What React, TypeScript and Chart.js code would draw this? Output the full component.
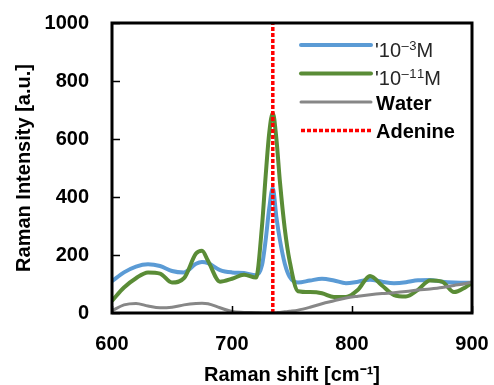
import { useEffect, useRef } from "react";
import { Chart, registerables } from "chart.js";

Chart.register(...registerables);

// ---- data ----
const ramanShift = [
  600, 610, 620, 630, 640, 650, 660, 670, 675, 680,
  690, 700, 710, 720, 725, 728, 731, 734, 737, 740,
  744, 748, 755, 765, 775, 785, 795, 805, 815, 825,
  835, 845, 855, 865, 875, 885, 895, 900,
];
const conc1e3 = [
  110, 140, 160, 168, 162, 145, 140, 170, 176, 172,
  148, 140, 138, 130, 165, 250, 360, 430, 330, 250,
  170, 125, 105, 112, 118, 112, 103, 108, 115, 108,
  103, 106, 113, 114, 108, 105, 104, 104,
];
const conc1e11 = [
  42, 88, 120, 140, 136, 105, 120, 205, 215, 180,
  108, 118, 132, 122, 300, 470, 620, 690, 600, 450,
  290, 180, 75, 72, 68, 55, 55, 80, 128, 95,
  62, 57, 80, 112, 108, 72, 90, 103,
];
const water = [
  8, 28, 33, 24, 18, 20, 28, 33, 34, 32,
  18, 5, 2, 1, 0, 0, 0, 0, 1, 2,
  4, 6, 10, 20, 32, 42, 52, 58, 63, 67,
  70, 74, 79, 83, 88, 95, 102, 107,
];
const adenineShift = [734, 734];
const adenineIntensity = [0, 1000];

const seriesLabels = ["'10⁻³M", "'10⁻¹¹M", "Water", "Adenine"];
const xTitle = "Raman shift [cm⁻¹]";
const yTitle = "Raman Intensity [a.u.]";
const xMin = 600;
const xMax = 900;
const xStep = 100;
const yMin = 0;
const yMax = 1000;
const yStep = 200;

// ---- styles ----
const FONT = '"Liberation Sans", Arial, sans-serif';
const legendBold = [false, false, true, true];
const SUP_MAP: Record<string, string> = {
  "⁻": "–", "⁰": "0", "¹": "1", "²": "2", "³": "3", "⁴": "4",
  "⁵": "5", "⁶": "6", "⁷": "7", "⁸": "8", "⁹": "9",
};

function pts(xs: number[], ys: number[]) {
  return xs.map((x, i) => ({ x, y: ys[i] }));
}

function drawRich(ctx: CanvasRenderingContext2D, text: string, x: number, y: number, size: number, weight: string) {
  let cx = x;
  const supSize = Math.round(size * 0.66);
  for (const ch of text) {
    const sup = SUP_MAP[ch];
    if (sup !== undefined) {
      ctx.font = `${weight} ${supSize}px ${FONT}`;
      ctx.fillText(sup, cx + 0.5, y - size * 0.36);
      cx += ctx.measureText(sup).width + 0.5;
    } else {
      ctx.font = `${weight} ${size}px ${FONT}`;
      ctx.fillText(ch, cx, y);
      cx += ctx.measureText(ch).width;
    }
  }
}

const framePlugin = {
  id: "frameTicksLegend",
  afterDatasetsDraw(chart: any) {
    const { ctx, chartArea: a, scales } = chart;
    ctx.save();
    ctx.strokeStyle = "#000";
    ctx.lineWidth = 1.5;
    ctx.beginPath();
    for (const t of scales.y.ticks) {
      const y = Math.round(scales.y.getPixelForValue(t.value)) + 0.5;
      ctx.moveTo(a.left, y);
      ctx.lineTo(a.left + 8, y);
    }
    for (const t of scales.x.ticks) {
      const x = Math.round(scales.x.getPixelForValue(t.value)) + 0.5;
      ctx.moveTo(x, a.bottom);
      ctx.lineTo(x, a.bottom - 7);
    }
    ctx.stroke();
    ctx.lineWidth = 3;
    ctx.strokeRect(a.left, a.top, a.right - a.left, a.bottom - a.top);

    // legend
    const rowsLine = [45, 73.5, 102, 130.5];
    const rowsBase = [57, 85, 110, 138];
    chart.data.datasets.forEach((ds: any, i: number) => {
      const ly = rowsLine[i];
      ctx.save();
      ctx.strokeStyle = ds.borderColor;
      ctx.lineWidth = ds.borderWidth;
      ctx.lineCap = ds.borderDash ? "butt" : "round";
      ctx.setLineDash(ds.borderDash || []);
      ctx.beginPath();
      ctx.moveTo(301, ly);
      ctx.lineTo(371, ly);
      ctx.stroke();
      ctx.restore();
      ctx.fillStyle = legendBold[i] ? "#000" : "#262626";
      ctx.textBaseline = "alphabetic";
      ctx.textAlign = "left";
      drawRich(ctx, ds.label, legendBold[i] ? 376 : 375, rowsBase[i], 20, legendBold[i] ? "bold" : "normal");
    });
    ctx.restore();
  },
};

export default function App() {
  const ref = useRef<HTMLCanvasElement | null>(null);

  useEffect(() => {
    document.body.style.margin = "0";
    const canvas = ref.current;
    if (!canvas) return;
    const chart = new Chart(canvas, {
      type: "line",
      data: {
        datasets: [
          {
            label: seriesLabels[0],
            data: pts(ramanShift, conc1e3),
            borderColor: "#5B9BD5",
            borderWidth: 4,
            pointRadius: 0,
            cubicInterpolationMode: "monotone",
            order: 4,
          },
          {
            label: seriesLabels[1],
            data: pts(ramanShift, conc1e11),
            borderColor: "#5A8C36",
            borderWidth: 4,
            pointRadius: 0,
            cubicInterpolationMode: "monotone",
            order: 3,
          },
          {
            label: seriesLabels[2],
            data: pts(ramanShift, water),
            borderColor: "#878787",
            borderWidth: 3,
            pointRadius: 0,
            cubicInterpolationMode: "monotone",
            order: 2,
          },
          {
            label: seriesLabels[3],
            data: pts(adenineShift, adenineIntensity),
            borderColor: "#FF0000",
            borderWidth: 3.5,
            borderDash: [4, 2],
            pointRadius: 0,
            order: 1,
          },
        ],
      } as any,
      options: {
        responsive: false,
        animation: false,
        devicePixelRatio: 1,
        layout: { padding: { top: 23, right: 22, left: 0, bottom: 0 } },
        plugins: { legend: { display: false }, tooltip: { enabled: false } },
        scales: {
          x: {
            type: "linear",
            min: xMin,
            max: xMax,
            grid: { display: false, drawTicks: false },
            border: { display: false },
            ticks: {
              stepSize: xStep,
              color: "#000",
              padding: 19,
              font: { family: FONT, size: 20, weight: "bold" },
              callback: (v: any) => String(v),
            },
            title: {
              display: true,
              text: xTitle,
              color: "#000",
              padding: 0,
              font: { family: FONT, size: 20, weight: "bold", lineHeight: 1 },
            },
            afterFit: (s: any) => {
              s.height = 72;
              s.paddingLeft = 0;
              s.paddingRight = 0;
            },
          },
          y: {
            type: "linear",
            min: yMin,
            max: yMax,
            grid: { display: false, drawTicks: false },
            border: { display: false },
            ticks: {
              stepSize: yStep,
              color: "#000",
              padding: 23,
              font: { family: FONT, size: 20, weight: "bold" },
              callback: (v: any) => String(v),
            },
            title: {
              display: true,
              text: yTitle,
              color: "#000",
              padding: { top: 12, bottom: 0 },
              font: { family: FONT, size: 20, weight: "bold" },
            },
            afterFit: (s: any) => {
              s.width = 112;
              s.paddingTop = 0;
              s.paddingBottom = 0;
            },
          },
        },
      } as any,
      plugins: [framePlugin],
    });
    return () => chart.destroy();
  }, []);

  return (
    <div style={{ width: 494, height: 385 }}>
      <canvas ref={ref} width={494} height={385} style={{ display: "block" }} />
    </div>
  );
}
